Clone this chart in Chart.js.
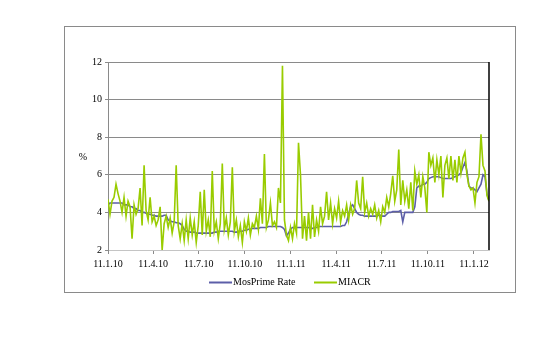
<!DOCTYPE html>
<html><head><meta charset="utf-8">
<script src="https://cdn.jsdelivr.net/npm/chart.js@4/dist/chart.umd.min.js"></script>
<style>html,body{margin:0;padding:0;background:#fff}#c{display:block}</style>
</head><body>
<canvas id="c" width="554" height="342"></canvas>
<script>
// x positions: days since 11.1.10
const tickDays = [0, 90, 181, 273, 365, 455, 546, 638, 730];
const tickLabels = ['11.1.10', '11.4.10', '11.7.10', '11.10.10', '11.1.11', '11.4.11', '11.7.11', '11.10.11', '11.1.12'];
const sampleStepDays = 4;
const seriesNames = ['MosPrime Rate', 'MIACR'];

const mosprime = [
 4.4,4.5,4.5,4.5,4.5,4.5,4.5,4.5,4.4,4.4,
 4.4,4.3,4.3,4.2,4.2,4.1,4.1,4.0,4.0,3.95,
 3.9,3.9,3.85,3.85,3.8,3.8,3.8,3.8,3.85,3.85,
 3.6,3.55,3.5,3.5,3.45,3.45,3.4,3.3,3.1,3.0,
 3.0,2.95,2.95,2.95,2.9,2.9,2.9,2.9,2.9,2.9,
 2.9,2.9,2.9,2.95,2.95,3.0,3.0,3.0,3.0,3.0,
 3.0,3.0,3.0,2.95,2.95,3.0,3.0,3.0,3.05,3.05,
 3.1,3.1,3.15,3.15,3.15,3.15,3.2,3.2,3.2,3.2,
 3.25,3.25,3.25,3.25,3.25,3.25,3.25,3.2,3.1,2.75,
 2.9,3.1,3.2,3.2,3.2,3.2,3.2,3.2,3.2,3.2,
 3.2,3.15,3.15,3.2,3.2,3.25,3.25,3.25,3.25,3.25,
 3.25,3.25,3.25,3.25,3.25,3.25,3.25,3.3,3.3,3.5,
 3.9,4.3,4.4,4.2,4.0,3.9,3.85,3.85,3.8,3.8,
 3.8,3.8,3.8,3.8,3.8,3.85,3.85,3.8,3.8,3.9,
 4.0,4.0,4.05,4.05,4.05,4.05,4.1,3.5,4.0,4.0,
 4.0,4.0,4.0,4.3,5.3,5.4,5.4,5.5,5.5,5.6,
 5.8,5.85,5.9,5.9,5.9,5.9,5.85,5.8,5.8,5.8,
 5.8,5.8,5.85,5.9,5.95,6.0,6.1,6.4,6.65,6.2,
 5.4,5.3,5.3,5.2,5.1,5.3,5.5,6.0,5.9,5.0,4.6
];

const miacr = [
 4.7,3.9,4.6,4.8,5.5,5.0,4.6,4.0,4.8,3.8,
 4.6,4.3,2.6,4.4,3.9,4.2,5.3,3.3,6.5,4.1,
 3.6,4.8,3.5,3.8,3.3,3.6,4.3,2.0,3.4,3.8,
 3.2,3.7,2.9,3.5,6.5,3.3,2.6,3.4,2.5,3.6,
 2.6,3.7,2.8,3.5,2.4,3.3,5.1,2.8,5.2,3.0,
 3.6,2.7,6.2,3.0,3.5,2.6,3.4,6.6,3.1,3.7,
 2.8,3.5,6.4,3.0,3.6,2.7,3.3,2.4,3.5,3.0,
 3.7,2.8,3.4,3.2,3.8,3.1,4.75,3.4,7.1,3.2,
 3.6,4.5,3.3,3.5,3.2,5.3,4.5,11.8,3.6,2.8,
 2.5,3.2,2.6,3.4,2.9,7.7,6.0,2.6,3.8,2.5,
 4.0,2.6,4.4,2.7,3.6,3.0,4.3,3.4,3.8,5.1,
 3.6,4.5,3.4,4.2,3.7,4.6,3.5,4.1,3.8,4.4,
 3.6,4.4,3.9,4.2,5.7,4.5,4.2,5.9,4.0,4.5,
 3.8,4.2,3.9,4.4,3.7,4.1,3.5,4.3,4.0,4.8,
 4.3,5.0,5.95,4.6,5.2,7.35,4.4,5.7,4.6,5.2,
 4.2,5.6,4.1,6.2,5.5,6.0,4.8,5.9,5.3,4.0,
 7.2,6.5,6.9,5.6,6.8,6.0,7.0,4.8,6.5,6.9,
 5.8,7.0,5.7,6.8,5.6,7.0,6.1,6.9,7.2,6.0,
 5.4,5.2,5.3,4.5,5.6,5.9,8.15,6.5,6.2,4.9,4.6
];

const FONT = "'Liberation Serif','Times New Roman',serif";
const toPoints = arr => arr.map((v, i) => ({x: i * sampleStepDays, y: v}));
const lastDay = (miacr.length - 1) * sampleStepDays;

const decor = {
  id: 'decor',
  beforeDraw(chart) {
    const c = chart.ctx;
    c.save();
    c.strokeStyle = '#8a8a8a';
    c.lineWidth = 1;
    c.strokeRect(64.5, 26.5, 451, 266);
    c.restore();
  },
  afterDraw(chart) {
    const c = chart.ctx, a = chart.chartArea;
    c.save();
    c.strokeStyle = '#000';
    c.lineWidth = 1.5;
    c.beginPath();
    c.moveTo(a.right, a.top);
    c.lineTo(a.right, a.bottom);
    c.stroke();
    c.fillStyle = '#000';
    c.font = '10px ' + FONT;
    c.textAlign = 'center';
    c.textBaseline = 'middle';
    c.fillText('%', 83, 157);
    // legend
    const xs = [209, 314];
    const order = [0, 1];
    c.textAlign = 'left';
    order.forEach((di, k) => {
      const ds = chart.data.datasets[di];
      c.strokeStyle = ds.borderColor;
      c.lineWidth = 2;
      c.beginPath();
      c.moveTo(xs[k], 282.5);
      c.lineTo(xs[k] + 23, 282.5);
      c.stroke();
      c.fillStyle = '#000';
      c.fillText(ds.label, xs[k] + 24, 282.5);
    });
    c.restore();
  }
};

new Chart(document.getElementById('c'), {
  type: 'line',
  data: {
    datasets: [
      {label: seriesNames[0], data: toPoints(mosprime), borderColor: '#5c5ea8', borderWidth: 1.6, pointRadius: 0, tension: 0, order: 2},
      {label: seriesNames[1], data: toPoints(miacr), borderColor: '#99cc00', borderWidth: 1.6, pointRadius: 0, tension: 0, order: 1}
    ]
  },
  options: {
    responsive: false,
    animation: false,
    devicePixelRatio: 1,
    layout: {padding: {left: 0, top: 62, right: 65, bottom: 62}},
    plugins: {legend: {display: false}, tooltip: {enabled: false}},
    scales: {
      x: {
        type: 'linear', min: 0, max: lastDay,
        afterBuildTicks: s => { s.ticks = tickDays.map(v => ({value: v})); },
        afterFit: s => { s.height = 30; },
        ticks: {autoSkip: false, maxRotation: 0, color: '#000', font: {family: FONT, size: 10}, padding: 4,
          callback: v => tickLabels[tickDays.indexOf(v)]},
        grid: {drawOnChartArea: false, drawTicks: true, tickLength: 4, color: '#8a8a8a'},
        border: {color: '#c4c4c4', width: 1}
      },
      y: {
        min: 2, max: 12,
        afterFit: s => { s.width = 108; },
        ticks: {stepSize: 2, color: '#000', font: {family: FONT, size: 10}, padding: 3},
        grid: {color: '#8a8a8a', tickLength: 3},
        border: {color: '#8a8a8a', width: 1}
      }
    }
  },
  plugins: [decor]
});
</script>
</body></html>
